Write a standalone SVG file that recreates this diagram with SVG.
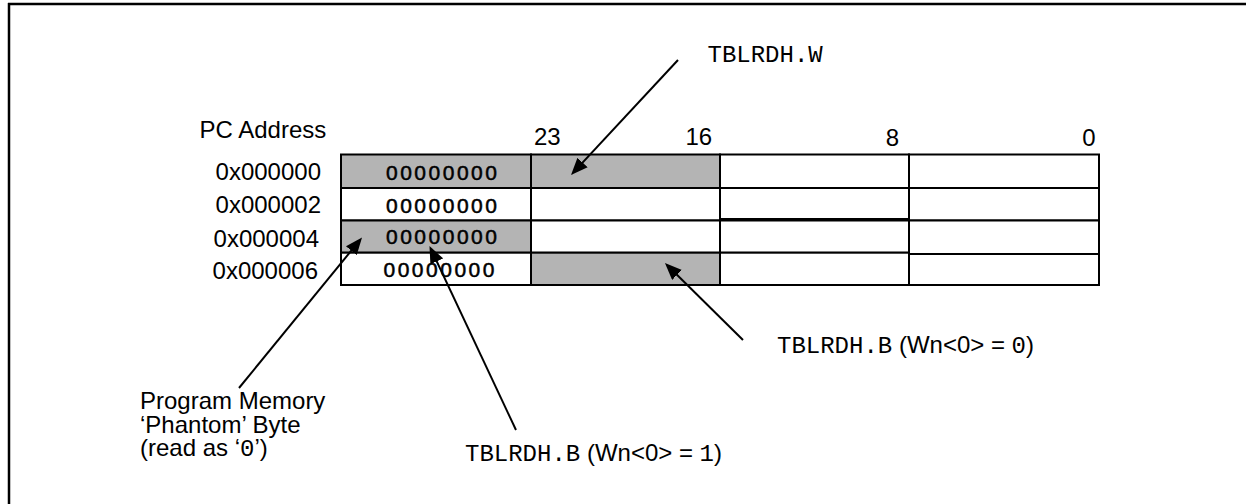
<svg xmlns="http://www.w3.org/2000/svg" width="1246" height="504" viewBox="0 0 1246 504">
<style>
.t{font-family:"Liberation Sans",Arial,sans-serif;font-size:24px;fill:#000}
.m{font-family:"Liberation Mono","Courier New",monospace;font-size:24px;fill:#000}
.z{font-family:"Liberation Sans",Arial,sans-serif;font-size:21px;letter-spacing:2.5px;fill:#000;stroke:#000;stroke-width:0.5}
.cell{stroke:#000;stroke-width:2;fill:#fff}
.ln{stroke:#000;stroke-width:2;fill:none;marker-end:url(#ah)}
</style>
<defs>
<marker id="ah" markerUnits="userSpaceOnUse" markerWidth="17" markerHeight="14" refX="13" refY="7" orient="auto">
<path d="M0,0 L17,7 L0,14 z" fill="#000"/>
</marker>
</defs>
<rect width="1246" height="504" fill="#fff"/>
<g id="frame">
<line x1="8" y1="4" x2="1246" y2="4" stroke="#000" stroke-width="2.5"/>
<line x1="9" y1="3" x2="9" y2="504" stroke="#000" stroke-width="2.5"/>
</g>
<g id="headers">
<text class="t" x="199.5" y="137.5">PC Address</text>
<text class="t" x="534" y="145">23</text>
<text class="t" x="685.5" y="145">16</text>
<text class="t" x="885.8" y="145.5">8</text>
<text class="t" x="1082.3" y="145.5">0</text>
</g>
<g id="addresses">
<text class="t" x="321" y="180" text-anchor="end">0x000000</text>
<text class="t" x="321" y="213" text-anchor="end">0x000002</text>
<text class="t" x="319" y="246.5" text-anchor="end">0x000004</text>
<text class="t" x="318" y="278.5" text-anchor="end">0x000006</text>
</g>
<g id="table">
<rect class="cell" x="341" y="154.5" width="190" height="33.5" style="fill:#b4b4b4"/>
<rect class="cell" x="531" y="154.5" width="189" height="33.5" style="fill:#b4b4b4"/>
<rect class="cell" x="720" y="154.5" width="189" height="33.5"/>
<rect class="cell" x="909" y="154.5" width="190" height="33.5"/>
<rect class="cell" x="341" y="188" width="190" height="32.5"/>
<rect class="cell" x="531" y="188" width="189" height="32.5"/>
<rect class="cell" x="720" y="188" width="189" height="31"/>
<rect class="cell" x="909" y="188" width="190" height="32.5"/>
<rect class="cell" x="341" y="220.5" width="190" height="32.2" style="fill:#b4b4b4"/>
<rect class="cell" x="531" y="220.5" width="189" height="32.2"/>
<rect class="cell" x="720" y="220.5" width="189" height="32.2"/>
<rect class="cell" x="909" y="220.5" width="190" height="33.5"/>
<rect class="cell" x="341" y="252.7" width="190" height="32.3"/>
<rect class="cell" x="531" y="252.7" width="189" height="32.3" style="fill:#b4b4b4"/>
<rect class="cell" x="720" y="252.7" width="189" height="32.3"/>
<rect class="cell" x="909" y="254" width="190" height="31"/>
</g>
<g id="bytes">
<text class="z" x="386" y="179.5">00000000</text>
<text class="z" x="386" y="212.5">00000000</text>
<text class="z" x="386" y="243.5">00000000</text>
<text class="z" x="383.5" y="276.5">00000000</text>
</g>
<g id="connectors">
<line class="ln" x1="678" y1="60" x2="573.7" y2="172.1"/>
<line class="ln" x1="743" y1="340" x2="667.8" y2="265.8"/>
<line class="ln" x1="239" y1="388" x2="359.5" y2="240.6"/>
<line class="ln" x1="516" y1="430" x2="431.2" y2="249.6"/>
</g>
<g id="label-w">
<text class="m" x="707.5" y="62">TBLRDH.W</text>
</g>
<g id="label-b0">
<text x="777" y="353"><tspan class="m">TBLRDH.B</tspan><tspan class="t"> (Wn&lt;0&gt; = </tspan><tspan class="m">0</tspan><tspan class="t">)</tspan></text>
</g>
<g id="label-b1">
<text x="465" y="461"><tspan class="m">TBLRDH.B</tspan><tspan class="t"> (Wn&lt;0&gt; = </tspan><tspan class="m">1</tspan><tspan class="t">)</tspan></text>
</g>
<g id="label-phantom">
<text class="t" x="140" y="409">Program Memory</text>
<text class="t" x="140" y="432.5">‘Phantom’ Byte</text>
<text class="t" x="140" y="456">(read as ‘<tspan class="m">0</tspan>’)</text>
</g>
</svg>
